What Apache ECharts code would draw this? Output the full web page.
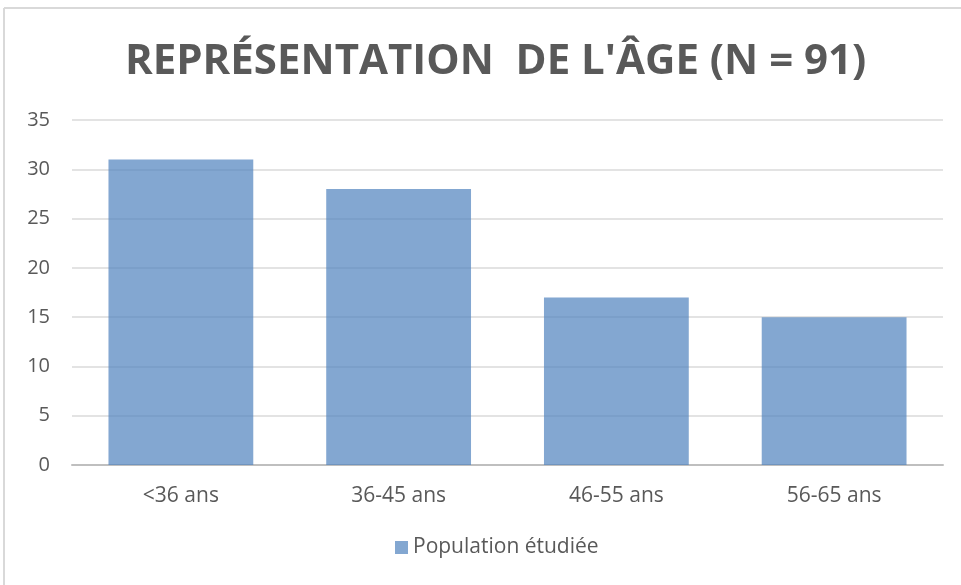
<!DOCTYPE html>
<html>
<head>
<meta charset="utf-8">
<script src="https://cdn.jsdelivr.net/npm/echarts@6/dist/echarts.min.js"></script>
<style>
  html, body { margin: 0; padding: 0; background: #fff; }
  #container { width: 961px; height: 585px; }
</style>
</head>
<body>
<div id="container"></div>
<script>
var categories = ['<36 ans', '36-45 ans', '46-55 ans', '56-65 ans'];
var values = [31, 28, 17, 15];
var seriesName = 'Population étudiée';
var titleText = "REPRÉSENTATION  DE L'ÂGE (N = 91)";

var textColor = '#595959';
var font = 'Open Sans, sans-serif';

var option = {
    animation: false,
    title: {
        text: titleText,
        left: 120,
        top: 36,
        textStyle: {
            fontFamily: font,
            fontSize: 42,
            fontWeight: 'bold',
            color: textColor
        }
    },
    legend: {
        bottom: 22,
        left: 390,
        itemWidth: 13,
        itemHeight: 13,
        itemGap: 6,
        icon: 'rect',
        textStyle: {
            fontFamily: font,
            fontSize: 21,
            color: textColor
        },
        data: [seriesName]
    },
    grid: {
        left: 72,
        right: 18,
        top: 120,
        bottom: 120
    },
    xAxis: {
        type: 'category',
        data: categories,
        axisTick: { show: false },
        axisLine: { lineStyle: { color: '#bfbfbf', width: 2 } },
        axisLabel: {
            margin: 21,
            fontFamily: font,
            fontSize: 21,
            color: textColor
        }
    },
    yAxis: {
        type: 'value',
        min: 0,
        max: 35,
        interval: 5,
        axisLine: { show: false },
        axisTick: { show: false },
        splitLine: { lineStyle: { color: '#e3e3e3', width: 2 } },
        axisLabel: {
            margin: 22,
            fontFamily: font,
            fontSize: 20,
            color: textColor
        }
    },
    series: [
        {
            name: seriesName,
            type: 'bar',
            data: values,
            barWidth: '66.5%',
            itemStyle: { color: '#4f81bd', opacity: 0.7 }
        }
    ],
    graphic: [
        { type: 'line', shape: { x1: 4, y1: 8, x2: 961, y2: 8 }, style: { stroke: '#d9d9d9', lineWidth: 2 } },
        { type: 'line', shape: { x1: 4, y1: 8, x2: 4, y2: 585 }, style: { stroke: '#d9d9d9', lineWidth: 2 } }
    ]
};

var myChart = echarts.init(document.getElementById('container'));
myChart.setOption(option);
</script>
</body>
</html>
